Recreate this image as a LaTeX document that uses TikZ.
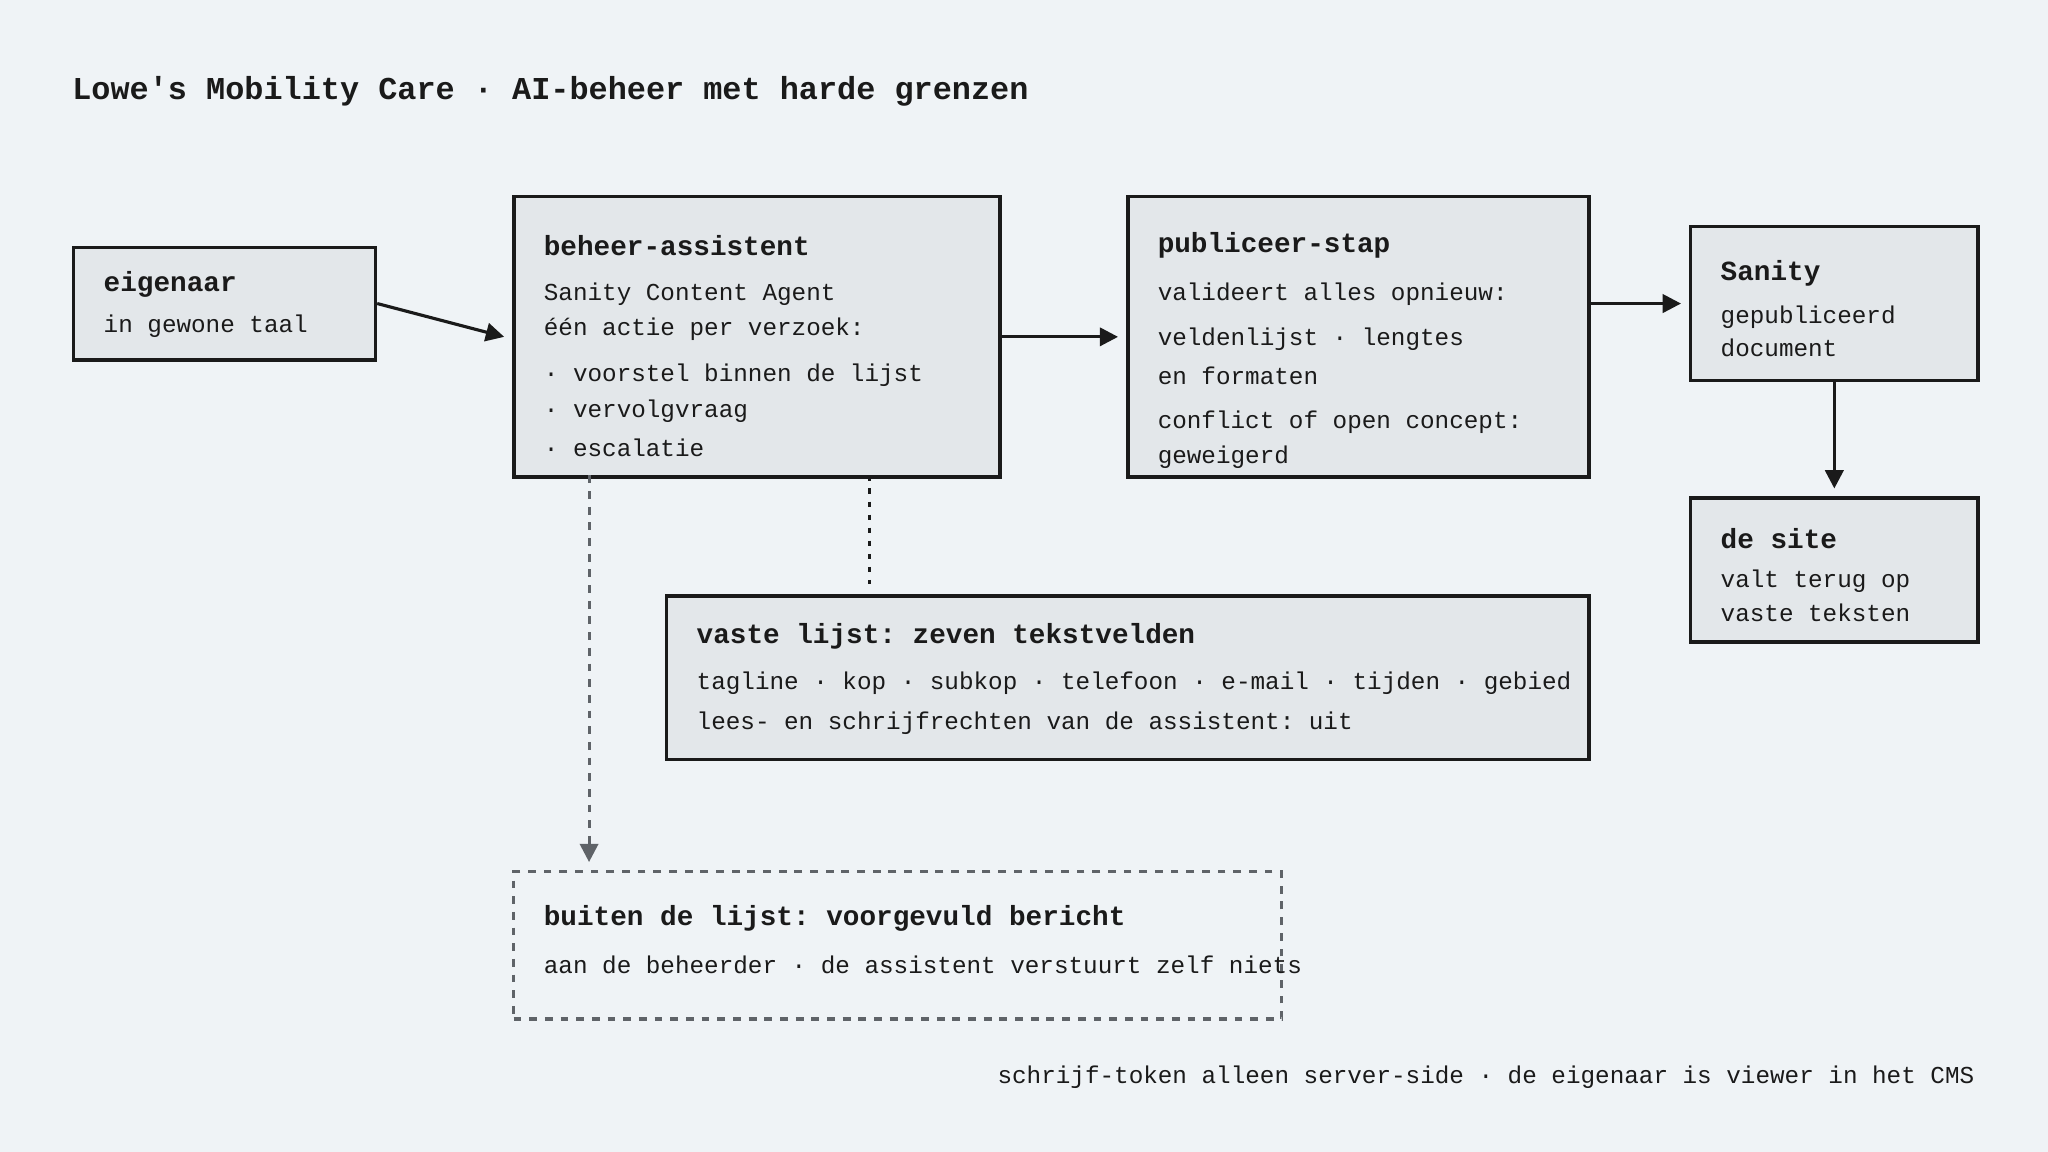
\documentclass[tikz,border=0pt]{standalone}
\usepackage{fontspec}
\setmonofont{Liberation Mono}
\usetikzlibrary{arrows.meta}
\definecolor{bgc}{HTML}{EFF3F6}
\definecolor{boxc}{HTML}{E3E7EA}
\definecolor{inkc}{HTML}{1A1A1A}
\definecolor{grayc}{HTML}{5F6368}
\tikzset{
  box/.style={draw=inkc,line width=1.4pt,fill=boxc,anchor=north west,inner sep=0pt},
  hd/.style={anchor=west,inner sep=0pt,text=inkc,font=\ttfamily\bfseries\fontsize{10.6}{12}\selectfont},
  tx/.style={anchor=west,inner sep=0pt,text=inkc,font=\ttfamily\fontsize{9.3}{11}\selectfont},
  arr/.style={-{Triangle[length=7pt,width=7pt]},line width=1.2pt,draw=inkc}
}
\begin{document}
\begin{tikzpicture}[x=0.5pt,y=-0.5pt]
\fill[bgc] (0,0) rectangle (1568,882);
\node[anchor=west,inner sep=0pt,text=inkc,font=\ttfamily\bfseries\fontsize{12.2}{14}\selectfont] (title) at (55,70) {Lowe's Mobility Care · AI-beheer met harde grenzen};
% boxes
\node[box,minimum width=115.5pt,minimum height=43pt] (eig) at (55,188) {};
\node[box,minimum width=186pt,minimum height=107.5pt] (beh) at (392,149) {};
\node[box,minimum width=176.5pt,minimum height=107.5pt] (pub) at (862,149) {};
\node[box,minimum width=110pt,minimum height=59pt] (san) at (1293,172) {};
\node[box,minimum width=110pt,minimum height=55pt] (site) at (1293,380) {};
\node[box,minimum width=353pt,minimum height=62.5pt] (vast) at (509,455) {};
\node[box,draw=grayc,dashed,fill=none,line width=1.2pt,minimum width=294pt,minimum height=56.5pt] (buit) at (392,666) {};
% texts
\node[hd] (t1) at (79,218) {eigenaar};
\node[tx] (t2) at (79,250) {in gewone taal};
\node[hd] (t3) at (416,188) {beheer-assistent};
\node[tx] (t4) at (416,225) {Sanity Content Agent};
\node[tx] (t5) at (416,252) {één actie per verzoek:};
\node[tx] (t6) at (416,287) {· voorstel binnen de lijst};
\node[tx] (t7) at (416,315) {· vervolgvraag};
\node[tx] (t8) at (416,343) {· escalatie};
\node[hd] (t9) at (886,188) {publiceer-stap};
\node[tx] (t10) at (886,225) {valideert alles opnieuw:};
\node[tx] (t11) at (886,260) {veldenlijst · lengtes};
\node[tx] (t12) at (886,288) {en formaten};
\node[tx] (t13) at (886,323) {conflict of open concept:};
\node[tx] (t14) at (886,350) {geweigerd};
\node[hd] (t15) at (1317,209) {Sanity};
\node[tx] (t16) at (1317,243) {gepubliceerd};
\node[tx] (t17) at (1317,266) {document};
\node[hd] (t18) at (1317,412) {de site};
\node[tx] (t19) at (1317,445) {valt terug op};
\node[tx] (t20) at (1317,469) {vaste teksten};
\node[hd] (t21) at (533,487) {vaste lijst: zeven tekstvelden};
\node[tx] (t22) at (533,523) {tagline · kop · subkop · telefoon · e-mail · tijden · gebied};
\node[tx] (t23) at (533,554) {lees- en schrijfrechten van de assistent: uit};
\node[hd] (t24) at (416,703) {buiten de lijst: voorgevuld bericht};
\node[tx] (t25) at (416,739) {aan de beheerder · de assistent verstuurt zelf niets};
\node[tx,anchor=east] (foot) at (1512,825) {schrijf-token alleen server-side · de eigenaar is viewer in het CMS};
% connectors
\draw[arr] (eig.east) -- ([xshift=-3pt]beh.west);
\draw[arr] (beh.east) -- ([xshift=-3pt]pub.west);
\draw[arr] (pub.east |- eig.east) -- ([xshift=-3pt]san.west);
\draw[arr] (san.south) -- ([yshift=3pt]site.north);
\coordinate (dot1) at (666,364);
\coordinate (dot2) at (666,447);
\draw[inkc,line width=1.2pt,dash pattern=on 2pt off 3pt] (dot1) -- (dot2);
\coordinate (das1) at (451,364);
\coordinate (das2) at (451,660);
\draw[grayc,line width=1.2pt,dashed,-{Triangle[length=7pt,width=7pt]}] (das1) -- (das2);
\end{tikzpicture}
\end{document}
